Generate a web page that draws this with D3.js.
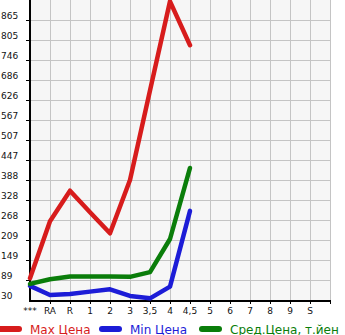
<!DOCTYPE html>
<html>
<head>
<meta charset="utf-8">
<script src="https://cdn.jsdelivr.net/npm/d3@7"></script>
<style>
	body { margin: 0; background: #fff; }
	svg { display: block; font-family: 'DejaVu Sans', sans-serif; }
</style>
</head>
<body>
<div id="chart"></div>
<script>
const categories = ['***', 'RA', 'R', '1', '2', '3', '3,5', '4', '4,5', '5', '6', '7', '8', '9', 'S']
const yTicks = [30, 89, 149, 209, 268, 328, 388, 447, 507, 567, 626, 686, 746, 805, 865]
const maxPrice = [95, 265, 356, 292, 229, 388, 655, 921, 790]
const minPrice = [72, 45, 48, 55, 62, 42, 35, 70, 296]
const avgPrice = [78, 92, 100, 100, 100, 99, 113, 212, 424]
const legendNames = ['Max Цена', 'Min Цена', 'Сред.Цена, т.йен']

const colors = ['#d71c1c', '#1c1cd7', '#0a7d0a']
const series = [maxPrice, minPrice, avgPrice]

const width = 345
const height = 335
const plotLeft = 30
const plotRight = 330
const plotTop = 0
const plotBottom = 300

const svg = d3.select('#chart')
	.append('svg')
	.attr('width', width)
	.attr('height', height)

const x = d3.scalePoint().domain(categories).range([plotLeft, 310])
const y = d3.scaleLinear().domain([30, 925]).range([plotBottom, plotTop])

// plot background
svg.append('rect')
	.attr('x', plotLeft)
	.attr('y', plotTop)
	.attr('width', plotRight - plotLeft)
	.attr('height', plotBottom - plotTop)
	.attr('fill', '#f6f6f6')

// grid
const grid = svg.append('g').attr('stroke', '#c4c4c4').attr('stroke-width', 1)
grid.selectAll('line.v')
	.data(categories.slice(1).map(c => x(c)).concat([plotRight]))
	.enter()
	.append('line')
	.attr('x1', d => Math.round(d) + 0.5)
	.attr('x2', d => Math.round(d) + 0.5)
	.attr('y1', plotTop)
	.attr('y2', plotBottom)
grid.selectAll('line.h')
	.data(yTicks.slice(1))
	.enter()
	.append('line')
	.attr('x1', plotLeft)
	.attr('x2', plotRight)
	.attr('y1', d => Math.round(y(d)) + 0.5)
	.attr('y2', d => Math.round(y(d)) + 0.5)

// y axis labels
const yAxis = svg.append('g')
yAxis.selectAll('text')
	.data(yTicks)
	.enter()
	.append('text')
	.attr('x', 1)
	.attr('y', d => y(d) - 1)
	.attr('font-size', 9)
	.attr('fill', '#111')
	.text(d => d)
yAxis.selectAll('line')
	.data(yTicks.slice(1))
	.enter()
	.append('line')
	.attr('x1', 26)
	.attr('x2', plotLeft)
	.attr('y1', d => Math.round(y(d)) + 0.5)
	.attr('y2', d => Math.round(y(d)) + 0.5)
	.attr('stroke', '#000')

// x axis labels
const xAxis = svg.append('g')
xAxis.selectAll('text')
	.data(categories)
	.enter()
	.append('text')
	.attr('x', d => x(d))
	.attr('y', 314)
	.attr('text-anchor', 'middle')
	.attr('font-size', 9)
	.attr('fill', '#111')
	.text(d => d)
xAxis.selectAll('line')
	.data(categories.slice(1).map(c => x(c)).concat([plotRight]))
	.enter()
	.append('line')
	.attr('x1', d => Math.round(d) + 0.5)
	.attr('x2', d => Math.round(d) + 0.5)
	.attr('y1', plotBottom)
	.attr('y2', plotBottom + 4)
	.attr('stroke', '#000')

// axis lines
svg.append('line')
	.attr('x1', plotLeft).attr('x2', plotLeft)
	.attr('y1', plotTop).attr('y2', plotBottom + 2)
	.attr('stroke', '#000').attr('stroke-width', 2)
svg.append('line')
	.attr('x1', plotLeft).attr('x2', plotRight + 1)
	.attr('y1', plotBottom + 1).attr('y2', plotBottom + 1)
	.attr('stroke', '#000').attr('stroke-width', 2)

// series lines
const line = d3.line()
	.x((d, i) => x(categories[i]))
	.y(d => y(d))

svg.append('g')
	.selectAll('path')
	.data(series)
	.enter()
	.append('path')
	.attr('d', d => line(d))
	.attr('fill', 'none')
	.attr('stroke', (d, i) => colors[i])
	.attr('stroke-width', 4.5)
	.attr('stroke-linejoin', 'round')
	.attr('stroke-linecap', 'round')

// legend
const legendX = [0, 100, 200]
const legend = svg.append('g')
	.selectAll('g')
	.data(legendNames)
	.enter()
	.append('g')
	.attr('transform', (d, i) => `translate(${legendX[i]},329)`)
legend.append('line')
	.attr('x1', (d, i) => (i === 0 ? -4 : 2))
	.attr('x2', 19)
	.attr('stroke', (d, i) => colors[i])
	.attr('stroke-width', 6)
	.attr('stroke-linecap', 'round')
legend.append('text')
	.attr('x', 30)
	.attr('y', 4.5)
	.attr('font-size', 12)
	.attr('fill', (d, i) => colors[i])
	.text(d => d)
</script>
</body>
</html>
